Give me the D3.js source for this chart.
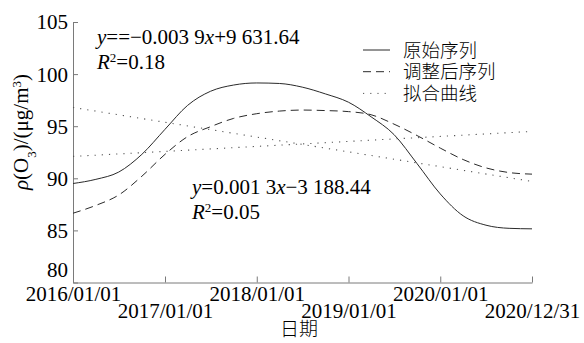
<!DOCTYPE html>
<html>
<head>
<meta charset="utf-8">
<script src="https://cdn.jsdelivr.net/npm/d3@7"></script>
<style>
  body { margin: 0; background: #fff; }
  text { font-family: "Liberation Serif", "Noto Sans CJK SC", serif; fill: #000; }
  .cjk { font-family: "Noto Sans CJK SC", sans-serif; font-weight: 300; }
</style>
</head>
<body>
<div id="container"></div>
<script>
//Sample dates (quarterly) and the two smoothed series
var dates = ["2016-01-01", "2016-04-01", "2016-07-01", "2016-10-01",
    "2017-01-01", "2017-04-01", "2017-07-01", "2017-10-01",
    "2018-01-01", "2018-04-01", "2018-07-01", "2018-10-01",
    "2019-01-01", "2019-04-01", "2019-07-01", "2019-10-01",
    "2020-01-01", "2020-04-01", "2020-07-01", "2020-10-01", "2020-12-31"];
var original = [89.5, 89.9, 90.6, 92.3, 94.7, 97.0, 98.35, 98.95, 99.15, 99.1, 98.75,
    98.1, 97.3, 95.9, 94.2, 91.4, 88.5, 86.4, 85.5, 85.2, 85.15];
var adjusted = [86.65, 87.4, 88.4, 90.2, 92.3, 94.0, 94.95, 95.75, 96.2, 96.45, 96.55,
    96.5, 96.4, 96.1, 95.2, 94.1, 92.9, 91.8, 91.0, 90.55, 90.4];

//Linear fits, value at first and last date
var fitDates = ["2016-01-01", "2020-12-31"];
var fitOriginal = [96.8, 89.7];
var fitAdjusted = [92.1, 94.5];

//Axis ticks
var xTicks = ["2016-01-01", "2017-01-01", "2018-01-01", "2019-01-01", "2020-01-01", "2020-12-31"];
var xTickLabels = ["2016/01/01", "2017/01/01", "2018/01/01", "2019/01/01", "2020/01/01", "2020/12/31"];
var yTicks = [80, 85, 90, 95, 100, 105];
var legendNames = ["原始序列", "调整后序列", "拟合曲线"];

var width = 584, height = 343;
var parse = d3.timeParse("%Y-%m-%d");

var x = d3.scaleTime()
    .domain([parse(xTicks[0]), parse(xTicks[xTicks.length - 1])])
    .range([73, 532]);
var y = d3.scaleLinear().domain([80, 105]).range([282.5, 22]);

var svg = d3.select("#container").append("svg")
    .attr("width", width)
    .attr("height", height);

svg.append("rect").attr("width", width).attr("height", height).attr("fill", "#fff");

var lineColor = "#2a2a2a", axisColor = "#7a7a7a";

//X axis, ticks pointing up, labels on two rows
var xAxis = svg.append("g")
    .attr("transform", "translate(0," + y(80) + ")")
    .call(d3.axisBottom(x)
        .tickValues(xTicks.map(parse))
        .tickFormat(function (d, i) { return xTickLabels[i]; })
        .tickSizeInner(-6).tickSizeOuter(0));
xAxis.select(".domain").attr("stroke", axisColor);
xAxis.selectAll(".tick line").attr("stroke", axisColor);
xAxis.selectAll(".tick text")
    .attr("font-size", 21)
    .attr("dy", null)
    .attr("y", function (d, i) { return i % 2 === 0 ? 18.5 : 35.5; })
    .attr("fill", "#000");

//Y axis, ticks pointing right
var yAxis = svg.append("g")
    .attr("transform", "translate(" + x.range()[0] + ",0)")
    .call(d3.axisLeft(y).tickValues(yTicks).tickSizeInner(-5).tickSizeOuter(0).tickPadding(5));
yAxis.select(".domain").attr("stroke", axisColor);
yAxis.selectAll(".tick line").attr("stroke", axisColor);
yAxis.selectAll(".tick text")
    .attr("font-size", 21)
    .attr("fill", "#000")
    .attr("dy", function (d) { return d === 80 ? "-0.3em" : "0.33em"; });

//Axis titles
svg.append("text")
    .attr("class", "cjk")
    .attr("x", 299).attr("y", 336)
    .attr("text-anchor", "middle")
    .attr("font-size", 19)
    .text("日期");

var yl = svg.append("text")
    .attr("transform", "translate(28,132) rotate(-90)")
    .attr("text-anchor", "middle")
    .attr("font-size", 21);
yl.append("tspan").attr("font-style", "italic").text("ρ");
yl.append("tspan").text("(O");
yl.append("tspan").attr("font-size", 13).attr("baseline-shift", "sub").text("3");
yl.append("tspan").text(")/(μg/m");
yl.append("tspan").attr("font-size", 13).attr("baseline-shift", "super").text("3");
yl.append("tspan").text(")");

//Series
var pts = function (vals, ds) {
    return vals.map(function (v, i) { return [parse(ds[i]), v]; });
};
var line = d3.line()
    .x(function (d) { return x(d[0]); })
    .y(function (d) { return y(d[1]); })
    .curve(d3.curveMonotoneX);

var styles = [
    { dash: null },
    { dash: "8,5" },
    { dash: "1.2,6" }
];

svg.append("path").datum(pts(original, dates))
    .attr("d", line).attr("fill", "none")
    .attr("stroke", lineColor).attr("stroke-width", 1);
svg.append("path").datum(pts(adjusted, dates))
    .attr("d", line).attr("fill", "none")
    .attr("stroke", lineColor).attr("stroke-width", 1)
    .attr("stroke-dasharray", styles[1].dash);
[fitOriginal, fitAdjusted].forEach(function (f) {
    svg.append("path").datum(pts(f, fitDates))
        .attr("d", line).attr("fill", "none")
        .attr("stroke", "#555").attr("stroke-width", 1.1)
        .attr("stroke-dasharray", styles[2].dash);
});

//Equations
function equation(x0, y0, parts, r2) {
    var t = svg.append("text").attr("x", x0).attr("y", y0).attr("font-size", 21);
    parts.forEach(function (p) {
        t.append("tspan").attr("font-style", p[1] ? "italic" : null).text(p[0]);
    });
    var r = svg.append("text").attr("x", x0).attr("y", y0 + 25).attr("font-size", 21);
    r.append("tspan").attr("font-style", "italic").text("R");
    r.append("tspan").attr("font-size", 13).attr("baseline-shift", "super").text("2");
    r.append("tspan").text("=" + r2);
}
equation(97, 44, [["y", 1], ["==−0.003 9", 0], ["x", 1], ["+9 631.64", 0]], "0.18");
equation(192, 194, [["y", 1], ["=0.001 3", 0], ["x", 1], ["−3 188.44", 0]], "0.05");

//Legend
var legend = svg.append("g").selectAll("g")
    .data(legendNames)
    .enter().append("g")
    .attr("transform", function (d, i) { return "translate(363," + (50 + i * 21.7) + ")"; });
legend.append("line")
    .attr("x1", 0).attr("x2", 27)
    .attr("stroke", function (d, i) { return i === 2 ? "#555" : lineColor; })
    .attr("stroke-width", 1)
    .attr("stroke-dasharray", function (d, i) { return styles[i].dash; });
legend.append("text")
    .attr("class", "cjk")
    .attr("x", 40).attr("dy", "0.36em")
    .attr("font-size", 18.5)
    .text(function (d) { return d; });
</script>
</body>
</html>
